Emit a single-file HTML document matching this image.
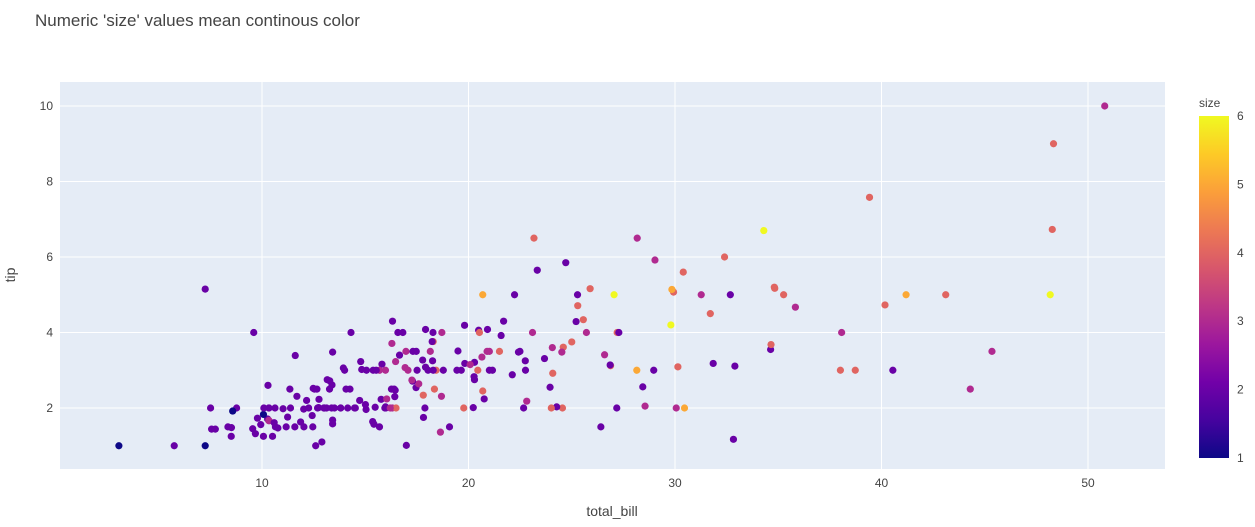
<!DOCTYPE html>
<html><head><meta charset="utf-8"><style>
body{margin:0;background:#fff;font-family:"Liberation Sans",Arial,sans-serif;}
svg text{font-family:"Liberation Sans",Arial,sans-serif;fill:#444;}
</style></head><body>
<svg id="chart" width="1255" height="522" xmlns="http://www.w3.org/2000/svg">
<defs><linearGradient id="plasma" x1="0" y1="1" x2="0" y2="0">
<stop offset="0" stop-color="#0d0887"/><stop offset="0.111" stop-color="#46039f"/><stop offset="0.222" stop-color="#7201a8"/><stop offset="0.333" stop-color="#9c179e"/><stop offset="0.444" stop-color="#bd3786"/><stop offset="0.556" stop-color="#d8576b"/><stop offset="0.667" stop-color="#ed7953"/><stop offset="0.778" stop-color="#fb9f3a"/><stop offset="0.889" stop-color="#fdca26"/><stop offset="1" stop-color="#f0f921"/>
</linearGradient></defs>
<text x="35" y="26" font-size="17">Numeric 'size' values mean continous color</text>
<rect x="60" y="82" width="1105" height="387" fill="#e5ecf6"/>
<g id="grid"></g><g id="points"></g><g id="ticks"></g>
<text x="612" y="516" font-size="14" text-anchor="middle">total_bill</text>
<text x="15" y="275" font-size="14" text-anchor="middle" transform="rotate(-90 15 275)">tip</text>
<text x="1199" y="107" font-size="12">size</text>
<rect x="1199" y="116" width="30" height="342" fill="url(#plasma)"/>
<g id="cbticks"></g>
</svg>
<script>
const totalBill=[16.99,10.34,21.01,23.68,24.59,25.29,8.77,26.88,15.04,14.78,10.27,35.26,15.42,18.43,14.83,21.58,10.33,16.29,16.97,20.65,17.92,20.29,15.77,39.42,19.82,17.81,13.37,12.69,21.7,19.65,9.55,18.35,15.06,20.69,17.78,24.06,16.31,16.93,18.69,31.27,16.04,17.46,13.94,9.68,30.4,18.29,22.23,32.4,28.55,18.04,12.54,10.29,34.81,9.94,25.56,19.49,38.01,26.41,11.24,48.27,20.29,13.81,11.02,18.29,17.59,20.08,16.45,3.07,20.23,15.01,12.02,17.07,26.86,25.28,14.73,10.51,17.92,27.2,22.76,17.29,19.44,16.66,10.07,32.68,15.98,34.83,13.03,18.28,24.71,21.16,28.97,22.49,5.75,16.32,22.75,40.17,27.28,12.03,21.01,12.46,11.35,15.38,44.3,22.42,20.92,15.36,20.49,25.21,18.24,14.31,14.0,7.25,38.07,23.95,25.71,17.31,29.93,10.65,12.43,24.08,11.69,13.42,14.26,15.95,12.48,29.8,8.52,14.52,11.38,22.82,19.08,20.27,11.17,12.26,18.26,8.51,10.33,14.15,16.0,13.16,17.47,34.3,41.19,27.05,16.43,8.35,18.64,11.87,9.78,7.51,14.07,13.13,17.26,24.55,19.77,29.85,48.17,25.0,13.39,16.49,21.5,12.66,16.21,13.81,17.51,24.52,20.76,31.71,10.59,10.63,50.81,15.81,7.25,31.85,16.82,32.9,17.89,14.48,9.6,34.63,34.65,23.33,45.35,23.17,40.55,20.69,20.9,30.46,18.15,23.1,15.69,19.81,28.44,15.48,16.58,7.56,10.34,43.11,13.0,13.51,18.71,12.74,13.0,16.4,20.53,16.47,26.59,38.73,24.27,12.76,30.06,25.89,48.33,13.27,28.17,12.9,28.15,11.59,7.74,30.14,12.16,13.42,8.58,15.98,13.42,16.27,10.09,20.45,13.28,22.12,24.01,15.69,11.61,10.77,15.53,10.07,12.6,32.83,35.83,29.03,27.18,22.67,17.82,18.78];
const tips=[1.01,1.66,3.5,3.31,3.61,4.71,2.0,3.12,1.96,3.23,1.71,5.0,1.57,3.0,3.02,3.92,1.67,3.71,3.5,3.35,4.08,2.75,2.23,7.58,3.18,2.34,2.0,2.0,4.3,3.0,1.45,2.5,3.0,2.45,3.27,3.6,2.0,3.07,2.31,5.0,2.24,2.54,3.06,1.32,5.6,3.0,5.0,6.0,2.05,3.0,2.5,2.6,5.2,1.56,4.34,3.51,3.0,1.5,1.76,6.73,3.21,2.0,1.98,3.76,2.64,3.15,2.47,1.0,2.01,2.09,1.97,3.0,3.14,5.0,2.2,1.25,3.08,4.0,3.0,2.71,3.0,3.4,1.83,5.0,2.03,5.17,2.0,4.0,5.85,3.0,3.0,3.5,1.0,4.3,3.25,4.73,4.0,1.5,3.0,1.5,2.5,3.0,2.5,3.48,4.08,1.64,4.06,4.29,3.76,4.0,3.0,1.0,4.0,2.55,4.0,3.5,5.07,1.5,1.8,2.92,2.31,1.68,2.5,2.0,2.52,4.2,1.48,2.0,2.0,2.18,1.5,2.83,1.5,2.0,3.25,1.25,2.0,2.0,2.0,2.75,3.5,6.7,5.0,5.0,2.3,1.5,1.36,1.63,1.73,2.0,2.5,2.0,2.74,2.0,2.0,5.14,5.0,3.75,2.61,2.0,3.5,2.5,2.0,2.0,3.0,3.48,2.24,4.5,1.61,2.0,10.0,3.16,5.15,3.18,4.0,3.11,2.0,2.0,4.0,3.55,3.68,5.65,3.5,6.5,3.0,5.0,3.5,2.0,3.5,4.0,1.5,4.19,2.56,2.02,4.0,1.44,2.0,5.0,2.0,2.0,4.0,2.01,2.0,2.5,4.0,3.23,3.41,3.0,2.03,2.23,2.0,5.16,9.0,2.5,6.5,1.1,3.0,1.5,1.44,3.09,2.2,3.48,1.92,3.0,1.58,2.5,2.0,3.0,2.72,2.88,2.0,3.0,3.39,1.47,3.0,1.25,1.0,1.17,4.67,5.92,2.0,2.0,1.75,3.0];
const sizes=[2,3,3,2,4,4,2,4,2,2,2,4,2,4,2,2,3,3,3,3,2,2,2,4,2,4,2,2,2,2,2,4,2,4,2,3,3,3,3,3,3,2,2,2,4,2,2,4,3,2,2,2,4,2,4,2,4,2,2,4,2,2,2,4,3,3,2,1,2,2,2,3,2,2,2,2,2,4,2,2,2,2,1,2,2,4,2,2,2,2,2,2,2,2,2,4,2,2,2,2,2,2,3,2,2,2,2,2,2,2,2,1,3,2,3,2,4,2,2,4,2,2,2,2,2,6,2,2,2,3,2,2,2,2,2,2,2,2,2,2,2,6,5,6,2,2,3,2,2,2,2,2,3,4,4,5,6,4,2,4,4,2,3,2,2,3,2,4,2,2,3,2,2,2,2,2,2,2,2,2,4,2,3,4,2,5,3,5,3,3,2,2,2,2,2,2,2,4,2,2,3,2,2,2,4,3,3,4,2,2,3,4,4,2,3,2,5,2,2,4,2,2,1,3,2,2,2,4,2,2,4,3,2,2,2,2,2,2,3,3,2,2,2,2];
const xTicks=[10,20,30,40,50];
const yTicks=[2,4,6,8,10];
const cbTicks=[1,2,3,4,5,6];
const NS="http://www.w3.org/2000/svg";
const X=v=>55.5+v*20.65, Y=v=>483.5-v*37.75, CB=v=>458-(v-1)/5*342;
const stops=["#0d0887","#46039f","#7201a8","#9c179e","#bd3786","#d8576b","#ed7953","#fb9f3a","#fdca26","#f0f921"];
function hex(h){return [1,3,5].map(i=>parseInt(h.substr(i,2),16));}
function color(s){let t=Math.max(0,Math.min(1,(s-1)/5))*9;let i=Math.min(8,Math.floor(t)),f=t-i;let a=hex(stops[i]),b=hex(stops[i+1]);return "rgb("+a.map((c,k)=>Math.round(c+(b[k]-c)*f)).join(",")+")";}
function mk(tag,attrs,parent,txt){const e=document.createElementNS(NS,tag);for(const k in attrs)e.setAttribute(k,attrs[k]);if(txt!==undefined)e.textContent=txt;parent.appendChild(e);return e;}
const grid=document.getElementById('grid'),pts=document.getElementById('points'),tk=document.getElementById('ticks'),cbt=document.getElementById('cbticks');
xTicks.forEach(v=>{const l=mk('line',{x1:X(v),x2:X(v),y1:82,y2:469,stroke:'#fff','stroke-width':1},grid);


const t=mk('text',{x:X(v),y:487,'font-size':12,'text-anchor':'middle'},tk,v);

});
yTicks.forEach(v=>{const l=mk('line',{x1:60,x2:1165,y1:Y(v),y2:Y(v),stroke:'#fff','stroke-width':1},grid);


const t=mk('text',{x:53,y:Y(v)+4,'font-size':12,'text-anchor':'end'},tk,v);

});
totalBill.forEach((b,i)=>{const c=mk('circle',{cx:X(b),cy:Y(tips[i]),r:3.6,fill:color(sizes[i])},pts);

});
cbTicks.forEach(v=>{const t=mk('text',{x:1237,y:CB(v)+4,'font-size':12},cbt,v);

});
</script>
</body></html>
